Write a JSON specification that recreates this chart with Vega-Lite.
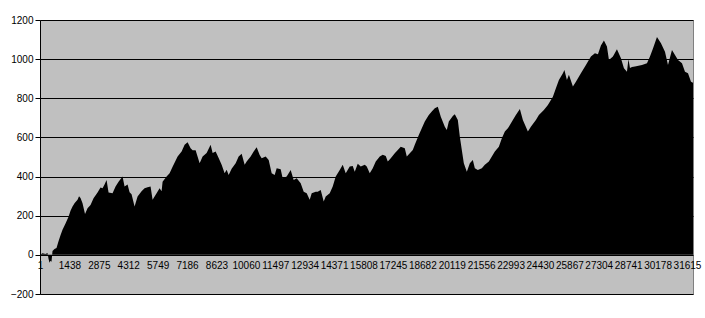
{
  "$schema": "https://vega.github.io/schema/vega-lite/v6.json",
  "width": 653,
  "height": 274,
  "autosize": {"type": "none"},
  "padding": {"left": 40, "top": 20, "right": 12, "bottom": 24},
  "background": "white",
  "config": {
    "view": {"fill": "#C0C0C0", "stroke": "#808080", "strokeWidth": 1},
    "font": "Liberation Sans",
    "axis": {"labelFont": "Liberation Sans", "labelFontSize": 10, "labelColor": "#000000", "title": null}
  },
  "data": {
    "values": [
      {"i":1,"v":0},{"i":123,"v":8},{"i":270,"v":5},{"i":368,"v":10},{"i":417,"v":-20},{"i":466,"v":-40},{"i":514,"v":-30},{"i":563,"v":-35},{"i":612,"v":20},{"i":710,"v":30},{"i":808,"v":35},{"i":906,"v":70},{"i":1003,"v":100},{"i":1101,"v":128},{"i":1248,"v":160},{"i":1395,"v":195},{"i":1492,"v":225},{"i":1590,"v":247},{"i":1688,"v":264},{"i":1835,"v":281},{"i":1908,"v":300},{"i":1981,"v":290},{"i":2079,"v":264},{"i":2201,"v":209},{"i":2324,"v":238},{"i":2470,"v":255},{"i":2617,"v":289},{"i":2813,"v":318},{"i":2959,"v":344},{"i":3057,"v":340},{"i":3155,"v":360},{"i":3253,"v":383},{"i":3351,"v":318},{"i":3546,"v":315},{"i":3693,"v":349},{"i":3840,"v":374},{"i":4035,"v":400},{"i":4133,"v":349},{"i":4280,"v":360},{"i":4378,"v":320},{"i":4475,"v":310},{"i":4622,"v":247},{"i":4769,"v":298},{"i":4964,"v":325},{"i":5111,"v":340},{"i":5258,"v":345},{"i":5404,"v":349},{"i":5502,"v":281},{"i":5698,"v":315},{"i":5845,"v":340},{"i":5942,"v":325},{"i":5991,"v":374},{"i":6187,"v":400},{"i":6334,"v":417},{"i":6480,"v":450},{"i":6725,"v":502},{"i":6920,"v":528},{"i":7067,"v":562},{"i":7214,"v":575},{"i":7360,"v":545},{"i":7458,"v":535},{"i":7605,"v":535},{"i":7801,"v":468},{"i":7947,"v":502},{"i":8143,"v":520},{"i":8338,"v":562},{"i":8436,"v":520},{"i":8583,"v":528},{"i":8730,"v":495},{"i":8876,"v":460},{"i":9023,"v":417},{"i":9121,"v":435},{"i":9219,"v":408},{"i":9365,"v":440},{"i":9561,"v":468},{"i":9708,"v":502},{"i":9854,"v":516},{"i":10001,"v":460},{"i":10099,"v":477},{"i":10294,"v":502},{"i":10441,"v":528},{"i":10588,"v":550},{"i":10735,"v":510},{"i":10832,"v":493},{"i":11028,"v":502},{"i":11175,"v":485},{"i":11321,"v":417},{"i":11468,"v":408},{"i":11566,"v":443},{"i":11761,"v":438},{"i":11859,"v":391},{"i":12055,"v":400},{"i":12250,"v":434},{"i":12397,"v":383},{"i":12544,"v":391},{"i":12739,"v":366},{"i":12886,"v":323},{"i":13033,"v":315},{"i":13180,"v":281},{"i":13277,"v":315},{"i":13473,"v":323},{"i":13571,"v":323},{"i":13717,"v":332},{"i":13864,"v":272},{"i":13962,"v":298},{"i":14158,"v":315},{"i":14304,"v":349},{"i":14451,"v":400},{"i":14647,"v":434},{"i":14793,"v":460},{"i":14940,"v":417},{"i":15136,"v":451},{"i":15282,"v":454},{"i":15380,"v":425},{"i":15527,"v":465},{"i":15673,"v":451},{"i":15869,"v":460},{"i":15967,"v":451},{"i":16114,"v":417},{"i":16260,"v":443},{"i":16407,"v":477},{"i":16603,"v":502},{"i":16749,"v":511},{"i":16896,"v":505},{"i":16994,"v":477},{"i":17140,"v":494},{"i":17336,"v":519},{"i":17483,"v":536},{"i":17629,"v":553},{"i":17825,"v":545},{"i":17923,"v":502},{"i":18070,"v":519},{"i":18216,"v":536},{"i":18314,"v":562},{"i":18510,"v":613},{"i":18656,"v":647},{"i":18803,"v":681},{"i":18999,"v":715},{"i":19145,"v":732},{"i":19292,"v":749},{"i":19439,"v":757},{"i":19585,"v":706},{"i":19781,"v":655},{"i":19879,"v":638},{"i":19977,"v":681},{"i":20172,"v":710},{"i":20270,"v":718},{"i":20417,"v":689},{"i":20515,"v":604},{"i":20612,"v":536},{"i":20710,"v":468},{"i":20857,"v":425},{"i":21004,"v":468},{"i":21150,"v":485},{"i":21248,"v":443},{"i":21395,"v":434},{"i":21590,"v":443},{"i":21737,"v":460},{"i":21933,"v":477},{"i":22079,"v":502},{"i":22226,"v":528},{"i":22422,"v":553},{"i":22568,"v":596},{"i":22715,"v":630},{"i":22862,"v":647},{"i":22911,"v":655},{"i":23106,"v":689},{"i":23253,"v":715},{"i":23449,"v":745},{"i":23595,"v":689},{"i":23840,"v":630},{"i":23986,"v":655},{"i":24231,"v":689},{"i":24378,"v":715},{"i":24622,"v":740},{"i":24818,"v":766},{"i":25062,"v":808},{"i":25209,"v":851},{"i":25356,"v":894},{"i":25551,"v":928},{"i":25625,"v":945},{"i":25747,"v":894},{"i":25845,"v":920},{"i":26040,"v":860},{"i":26187,"v":885},{"i":26431,"v":928},{"i":26676,"v":970},{"i":26920,"v":1013},{"i":27116,"v":1030},{"i":27263,"v":1025},{"i":27409,"v":1070},{"i":27556,"v":1095},{"i":27703,"v":1064},{"i":27801,"v":996},{"i":27996,"v":1013},{"i":28192,"v":1050},{"i":28387,"v":1004},{"i":28534,"v":953},{"i":28681,"v":936},{"i":28754,"v":1000},{"i":28828,"v":955},{"i":28925,"v":960},{"i":29072,"v":962},{"i":29414,"v":970},{"i":29659,"v":979},{"i":29806,"v":1013},{"i":29952,"v":1055},{"i":30148,"v":1113},{"i":30343,"v":1081},{"i":30539,"v":1038},{"i":30686,"v":970},{"i":30881,"v":1047},{"i":31028,"v":1021},{"i":31175,"v":996},{"i":31370,"v":979},{"i":31517,"v":936},{"i":31664,"v":928},{"i":31810,"v":885},{"i":31908,"v":880}
    ]
  },
  "mark": {"type": "area", "color": "#000000", "interpolate": "linear", "opacity": 1},
  "encoding": {
    "x": {
      "field": "i", "type": "quantitative",
      "scale": {"domain": [1, 31908], "nice": false, "zero": false},
      "axis": {
        "orient": "bottom", "offset": -34, "values": [1,1438,2875,4312,5749,7186,8623,10060,11497,12934,14371,15808,17245,18682,20119,21556,22993,24430,25867,27304,28741,30178,31615],
        "format": "d", "domain": false, "ticks": false, "tickSize": 0, "grid": false, "labelPadding": 0,
        "labelOverlap": false, "labelFlush": false, "labelBound": false, "labelBaseline": "top"
      }
    },
    "y": {
      "field": "v", "type": "quantitative",
      "scale": {"domain": [-200, 1200], "nice": false},
      "axis": {
        "values": [-200,0,200,400,600,800,1000,1200], "format": "d",
        "grid": true, "gridColor": "#000000", "gridWidth": 1, "gridOpacity": 1,
        "domain": true, "domainColor": "#000000", "ticks": true, "tickColor": "#000000", "tickSize": 5,
        "labelPadding": 2, "labelFlush": false
      }
    }
  }
}
